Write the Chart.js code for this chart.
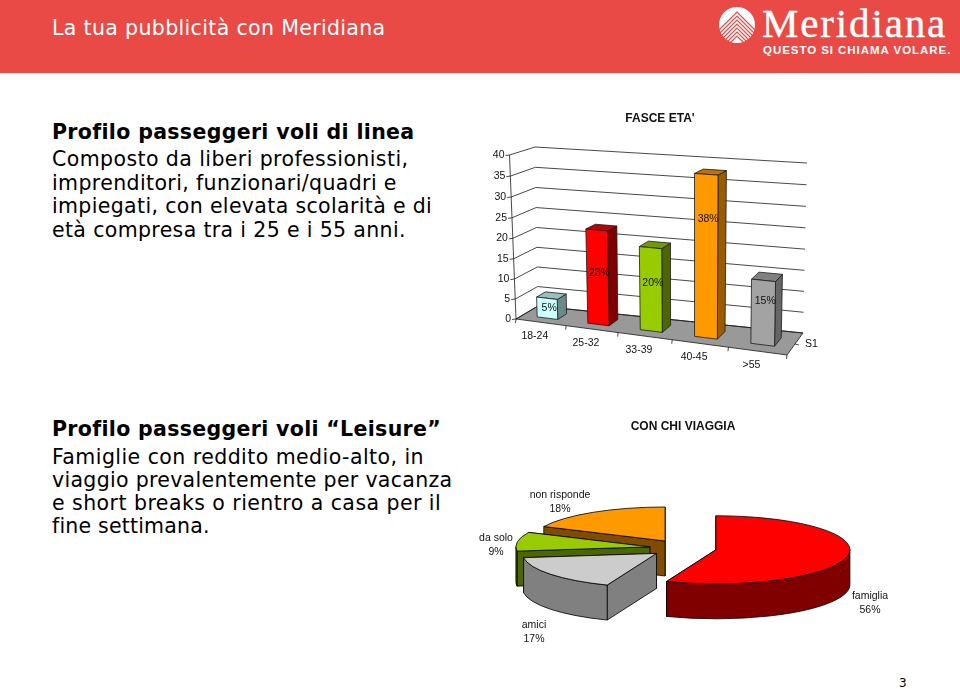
<!DOCTYPE html>
<html lang="it">
<head>
<meta charset="utf-8">
<title>La tua pubblicità con Meridiana</title>
<script src="https://cdn.jsdelivr.net/npm/chart.js@4"></script>
<style>
  html, body { margin: 0; padding: 0; background: #fff; }
  body { position: relative; width: 960px; height: 689px; overflow: hidden; font-family: "DejaVu Sans", sans-serif; color: #000; }
  #band { position: absolute; left: 0; top: 0; width: 960px; height: 73px; background: #e94a45; }
  .line { position: absolute; left: 52px; white-space: nowrap; font-size: 20.5px; line-height: 24px; letter-spacing: 0.38px; }
  .bold { font-weight: bold; letter-spacing: 0.34px; }
  canvas { position: absolute; }
  #logoName { position: absolute; left: 762px; top: 0; font: 41px/46px "Liberation Serif", serif; color: #fff; letter-spacing: 1.85px; white-space: nowrap; -webkit-text-stroke: 0.4px #fff; }
  #logoSub { position: absolute; left: 763px; top: 43px; font: bold 11.5px/14px "Liberation Sans", sans-serif; color: #fff; letter-spacing: 0.95px; white-space: nowrap; }
  #logoMark { position: absolute; left: 717px; top: 4px; }
  #pageNo { position: absolute; left: 899px; top: 676px; font: 12px/14px "DejaVu Sans", sans-serif; }
</style>
</head>
<body>
<div id="band"></div>
<div class="line" style="top:16px;color:#fff;letter-spacing:0.35px">La tua pubblicità con Meridiana</div>
<svg id="logoMark" width="40" height="42" viewBox="0 0 40 42">
  <circle cx="20" cy="21" r="18" fill="#fff"/>
  <g fill="none" stroke="#e94a45" stroke-width="1.2">
    <path d="M2 26 L20 8 L38 26"/><path d="M2 30 L20 12 L38 30"/><path d="M3 33 L20 16 L37 33"/>
    <path d="M5 35 L20 20 L35 35"/><path d="M7 37 L20 24 L33 37"/><path d="M10 38 L20 28 L30 38"/><path d="M13 39 L20 32 L27 39"/>
  </g>
</svg>
<div id="logoName">Meridiana</div>
<div id="logoSub">QUESTO SI CHIAMA VOLARE.</div>

<div class="line bold" style="top:120px">Profilo passeggeri voli di linea</div>
<div class="line" style="top:147px;letter-spacing:0.41px">Composto da liberi professionisti,</div>
<div class="line" style="top:171px">imprenditori, funzionari/quadri e</div>
<div class="line" style="top:194px;letter-spacing:0.35px">impiegati, con elevata scolarità e di</div>
<div class="line" style="top:218px;letter-spacing:0.35px">età compresa tra i 25 e i 55 anni.</div>

<div class="line bold" style="top:417px;letter-spacing:0.33px">Profilo passeggeri voli “Leisure”</div>
<div class="line" style="top:445px;letter-spacing:0.44px">Famiglie con reddito medio-alto, in</div>
<div class="line" style="top:468px;letter-spacing:0.31px">viaggio prevalentemente per vacanza</div>
<div class="line" style="top:491px;letter-spacing:0.45px">e short breaks o rientro a casa per il</div>
<div class="line" style="top:514px;letter-spacing:0.2px">fine settimana.</div>

<div id="pageNo">3</div>

<canvas id="ageChart" width="380" height="280" style="left:470px;top:111px"></canvas>
<canvas id="tripChart" width="426" height="244" style="left:470px;top:419px"></canvas>

<script>
// values
const ageLabels = ['18-24', '25-32', '33-39', '40-45', '>55'];
const ageValues = [5, 23, 20, 38, 15];
const ageTicks = [0, 5, 10, 15, 20, 25, 30, 35, 40];
const seriesName = 'S1';

const tripLabels = ['famiglia', 'amici', 'da solo', 'non risponde'];
const tripValues = [56, 17, 9, 18];

// colours
const ageFront = ['#ccffff', '#ff0000', '#99cc00', '#ff9900', '#a3a3a3'];
const ageSide = ['#6a8a8a', '#800000', '#4d6600', '#9a5c00', '#666666'];
const ageTop = ['#99bfbf', '#bf0000', '#739900', '#bf7300', '#808080'];
const tripTop = ['#ff0000', '#cccccc', '#99cc00', '#ff9900'];
const tripSide = ['#800000', '#808080', '#4d6600', '#804d00'];

const labelFont = '10.5px "Liberation Sans", Arial, sans-serif';

// how far up each bar its percent label sits, as a fraction of the bar
const ageLabelLift = [0.5, 0.55, 0.58, 0.73, 0.68];

// perspective box of the 3D bar chart, in page pixels: [bottom-left, bottom-right, top-right, top-left]
const ageBox = { left: 470, top: 111 };
const frontWall = [[516, 319], [787, 355], [790, 175], [509.5, 155]];
const backWall = [[538, 306], [803, 333], [807, 163], [535, 147]];
const barNear = 0.3, barFar = 0.7;

function quadMap(q) {
  const [p0, p1, p2, p3] = q;
  const dx1 = p1[0] - p2[0], dx2 = p3[0] - p2[0], sx = p0[0] - p1[0] + p2[0] - p3[0];
  const dy1 = p1[1] - p2[1], dy2 = p3[1] - p2[1], sy = p0[1] - p1[1] + p2[1] - p3[1];
  const den = dx1 * dy2 - dx2 * dy1;
  const g = (sx * dy2 - dx2 * sy) / den;
  const h = (dx1 * sy - sx * dy1) / den;
  const a = p1[0] - p0[0] + g * p1[0], b = p3[0] - p0[0] + h * p3[0];
  const d = p1[1] - p0[1] + g * p1[1], e = p3[1] - p0[1] + h * p3[1];
  return (u, v) => {
    const w = g * u + h * v + 1;
    return [(a * u + b * v + p0[0]) / w, (d * u + e * v + p0[1]) / w];
  };
}
const frontMap = quadMap(frontWall);
const backMap = quadMap(backWall);

function project(u, v, depth) {
  const f = frontMap(u, v), b = backMap(u, v);
  return [f[0] + (b[0] - f[0]) * depth, f[1] + (b[1] - f[1]) * depth];
}

function poly(ctx, pts, fill, stroke) {
  ctx.beginPath();
  pts.forEach((p, i) => (i ? ctx.lineTo(p[0], p[1]) : ctx.moveTo(p[0], p[1])));
  if (fill) {
    ctx.closePath();
    ctx.fillStyle = fill;
    ctx.fill();
  }
  if (stroke) {
    ctx.strokeStyle = stroke;
    ctx.lineWidth = 0.8;
    ctx.stroke();
  }
}

const bar3d = {
  id: 'bar3d',
  beforeDatasetsDraw(chart) {
    const { ctx, chartArea: area, scales } = chart;
    const toU = (px) => (px - area.left) / area.width;
    const toV = (py) => (area.bottom - py) / area.height;
    const lineCol = '#1a1a1a';

    ctx.save();
    ctx.translate(-ageBox.left, -ageBox.top);

    // floor
    poly(ctx, [project(0, 0, 0), project(1, 0, 0), project(1, 0, 1), project(0, 0, 1)], '#999999', lineCol);

    // grid on left and back walls, with tick labels
    ctx.font = labelFont;
    ageTicks.forEach((t) => {
      const v = toV(scales.y.getPixelForValue(t));
      const a = project(0, v, 0);
      poly(ctx, [[a[0] - 4, a[1] + 0.5], a, project(0, v, 1), project(1, v, 1)], null, lineCol);
      ctx.fillStyle = '#111';
      ctx.textAlign = 'right';
      ctx.textBaseline = 'middle';
      ctx.fillText(String(t), a[0] - 5, a[1]);
    });
    poly(ctx, [project(0, 0, 0), project(0, 1, 0)], null, lineCol);

    // category ticks and labels along the front edge
    ageLabels.forEach((name, i) => {
      const p = project(toU(scales.x.getPixelForValue(i)), 0, 0);
      ctx.fillStyle = '#111';
      ctx.textAlign = 'center';
      ctx.fillText(name, p[0] - 6, p[1] + 14);
    });
    for (let i = 0; i <= ageLabels.length; i++) {
      const p = project(i / ageLabels.length, 0, 0);
      poly(ctx, [p, [p[0] - 0.5, p[1] + 4]], null, lineCol);
    }

    // series tick and name on the right edge
    const mid = project(1, 0, 0.5);
    poly(ctx, [mid, [mid[0] + 4, mid[1] + 1]], null, lineCol);
    ctx.textAlign = 'left';
    ctx.fillStyle = '#111';
    ctx.fillText(seriesName, mid[0] + 10, mid[1]);

    // bars
    const meta = chart.getDatasetMeta(0);
    meta.data.forEach((bar, i) => {
      const u0 = toU(bar.x - bar.width / 2), u1 = toU(bar.x + bar.width / 2);
      const v0 = toV(bar.base), v1 = toV(bar.y);
      const fbl = project(u0, v0, barNear), fbr = project(u1, v0, barNear);
      const ftr = project(u1, v1, barNear), ftl = project(u0, v1, barNear);
      const bbr = project(u1, v0, barFar), btr = project(u1, v1, barFar), btl = project(u0, v1, barFar);
      poly(ctx, [fbr, bbr, btr, ftr], ageSide[i], lineCol);
      poly(ctx, [ftl, ftr, btr, btl], ageTop[i], lineCol);
      poly(ctx, [fbl, fbr, ftr, ftl], ageFront[i], lineCol);
    });

    // percent labels
    meta.data.forEach((bar, i) => {
      const v0 = toV(bar.base), v1 = toV(bar.y);
      const p = project(toU(bar.x), v0 + (v1 - v0) * ageLabelLift[i], barNear);
      ctx.fillStyle = '#111';
      ctx.textAlign = 'center';
      ctx.textBaseline = 'middle';
      ctx.fillText(ageValues[i] + '%', p[0] + 2, p[1]);
    });

    ctx.restore();
    return false;
  },
};

new Chart(document.getElementById('ageChart'), {
  type: 'bar',
  data: {
    labels: ageLabels,
    datasets: [{ label: seriesName, data: ageValues, backgroundColor: ageFront, categoryPercentage: 0.82, barPercentage: 0.5 }],
  },
  options: {
    responsive: false,
    animation: false,
    events: [],
    scales: {
      x: { display: false },
      y: { display: false, min: 0, max: 40 },
    },
    plugins: {
      legend: { display: false },
      tooltip: { enabled: false },
      title: {
        display: true,
        text: "FASCE ETA'",
        color: '#111',
        padding: 0,
        font: { family: '"Liberation Sans", Arial, sans-serif', size: 12, weight: 'bold' },
      },
    },
  },
  plugins: [bar3d],
});

// squashed, exploded pie with side walls
const pieSquash = 0.254, pieDepth = 35, pieExplode = 33.5;
// label anchors relative to the pie centre, in pixels
const tripLabelAt = [[187, 48], [-149, 77], [-187, -10], [-123, -53]];

const pie3d = {
  id: 'pie3d',
  beforeDatasetsDraw(chart) {
    const { ctx } = chart;
    const arcs = chart.getDatasetMeta(0).data;
    ctx.save();
    ctx.lineJoin = 'round';
    // back slices first
    [3, 2, 1, 0].forEach((i) => {
      const arc = arcs[i];
      const s = arc.startAngle, e = arc.endAngle, R = arc.outerRadius;
      const mid = (s + e) / 2;
      const cx = arc.x + Math.cos(mid) * pieExplode;
      const cy = arc.y + Math.sin(mid) * pieExplode * pieSquash;
      const rim = (a, y = 0) => [cx + R * Math.cos(a), cy + y + R * pieSquash * Math.sin(a)];

      // cut faces, the one further back first
      [s, e].sort((a, b) => Math.sin(a) - Math.sin(b)).forEach((a) => {
        poly(ctx, [[cx, cy], rim(a), rim(a, pieDepth), [cx, cy + pieDepth]], tripSide[i], '#000');
      });

      // outer wall, only the part facing the viewer
      const lo = Math.max(s, 0), hi = Math.min(e, Math.PI);
      if (lo < hi) {
        ctx.beginPath();
        ctx.ellipse(cx, cy, R, R * pieSquash, 0, lo, hi);
        ctx.ellipse(cx, cy + pieDepth, R, R * pieSquash, 0, hi, lo, true);
        ctx.closePath();
        ctx.fillStyle = tripSide[i];
        ctx.fill();
        ctx.strokeStyle = '#000';
        ctx.lineWidth = 0.8;
        ctx.stroke();
      }

      // top
      ctx.beginPath();
      ctx.moveTo(cx, cy);
      ctx.ellipse(cx, cy, R, R * pieSquash, 0, s, e);
      ctx.closePath();
      ctx.fillStyle = tripTop[i];
      ctx.fill();
      ctx.strokeStyle = '#000';
      ctx.lineWidth = 0.8;
      ctx.stroke();
    });

    // two line labels
    ctx.font = labelFont;
    ctx.fillStyle = '#111';
    ctx.textAlign = 'center';
    ctx.textBaseline = 'middle';
    tripLabels.forEach((name, i) => {
      const x = arcs[i].x + tripLabelAt[i][0], y = arcs[i].y + tripLabelAt[i][1];
      ctx.fillText(name, x, y);
      ctx.fillText(tripValues[i] + '%', x, y + 14);
    });
    ctx.restore();
    return false;
  },
};

new Chart(document.getElementById('tripChart'), {
  type: 'pie',
  data: {
    labels: tripLabels,
    datasets: [{ data: tripValues, backgroundColor: tripTop, borderWidth: 0 }],
  },
  options: {
    responsive: false,
    animation: false,
    events: [],
    radius: 134,
    plugins: {
      legend: { display: false },
      tooltip: { enabled: false },
      title: {
        display: true,
        text: 'CON CHI VIAGGIA',
        color: '#111',
        padding: 0,
        font: { family: '"Liberation Sans", Arial, sans-serif', size: 12, weight: 'bold' },
      },
    },
  },
  plugins: [pie3d],
});
</script>
</body>
</html>
